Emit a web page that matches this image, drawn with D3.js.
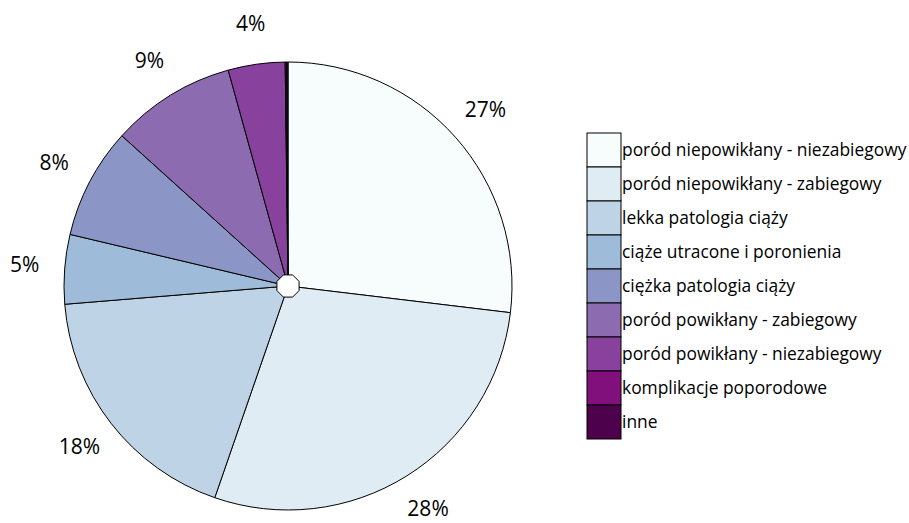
<!DOCTYPE html>
<html>
<head>
<meta charset="utf-8">
<script src="https://cdn.jsdelivr.net/npm/d3@7"></script>
<style>
  body { margin: 0; background: #fff; }
  text { font-family: "Open Sans", sans-serif; fill: #000; }
</style>
</head>
<body>
<svg width="909" height="523"></svg>
<script>
// categories and shares (in %)
var categories = [
  "poród niepowikłany - niezabiegowy",
  "poród niepowikłany - zabiegowy",
  "lekka patologia ciąży",
  "ciąże utracone i poronienia",
  "ciężka patologia ciąży",
  "poród powikłany - zabiegowy",
  "poród powikłany - niezabiegowy",
  "komplikacje poporodowe",
  "inne"
];
var values = [26.9, 28.4, 18.4, 5.0, 8.0, 9.0, 4.1, 0.1, 0.1];
var colors = ["#f7fcfd", "#e0ecf4", "#bfd3e6", "#9ebcda", "#8c96c6",
              "#8c6bb1", "#88419d", "#810f7c", "#4d004b"];

var svg = d3.select("svg"),
    cx = 288, cy = 286,
    radius = 224,
    labelRadius = 264;

var total = d3.sum(values);
var color = d3.scaleOrdinal().domain(categories).range(colors);

var pie = d3.pie().sort(null).value(function(d, i) { return values[i]; });
var arc = d3.arc().innerRadius(0).outerRadius(radius);
var labelArc = d3.arc().innerRadius(labelRadius).outerRadius(labelRadius);

var g = svg.append("g")
    .attr("transform", "translate(" + cx + "," + cy + ")");

var arcs = pie(categories);

// slices
g.selectAll("path.slice")
  .data(arcs)
  .enter().append("path")
    .attr("class", "slice")
    .attr("d", arc)
    .attr("fill", function(d) { return color(d.data); })
    .attr("stroke", "#000")
    .attr("stroke-width", 1);

// little white octagon in the middle
var octagon = d3.lineRadial().curve(d3.curveLinearClosed)
    .angle(function(d) { return d; })
    .radius(12);
g.append("path")
  .attr("d", octagon(d3.range(8).map(function(i) { return Math.PI / 8 + i * Math.PI / 4; })))
  .attr("fill", "#fff")
  .attr("stroke", "#000")
  .attr("stroke-width", 1);

// percentage labels
g.selectAll("text.pct")
  .data(arcs.filter(function(d, i) { return values[i] / total >= 0.01; }))
  .enter().append("text")
    .attr("class", "pct")
    .attr("transform", function(d) { return "translate(" + labelArc.centroid(d) + ")"; })
    .attr("text-anchor", "middle")
    .attr("dy", "0.3em")
    .style("font-size", "21px")
    .text(function(d, i) { return Math.round(d.value / total * 100) + "%"; });

// legend
var legend = svg.append("g")
    .attr("transform", "translate(587,133)");

var row = legend.selectAll("g")
  .data(categories)
  .enter().append("g")
    .attr("transform", function(d, i) { return "translate(0," + i * 34 + ")"; });

row.append("rect")
    .attr("width", 34)
    .attr("height", 34)
    .attr("fill", function(d) { return color(d); })
    .attr("stroke", "#000")
    .attr("stroke-width", 1);

row.append("text")
    .attr("x", 35)
    .attr("y", 17)
    .attr("dy", "0.35em")
    .style("font-size", "17.4px")
    .text(function(d) { return d; });
</script>
</body>
</html>
